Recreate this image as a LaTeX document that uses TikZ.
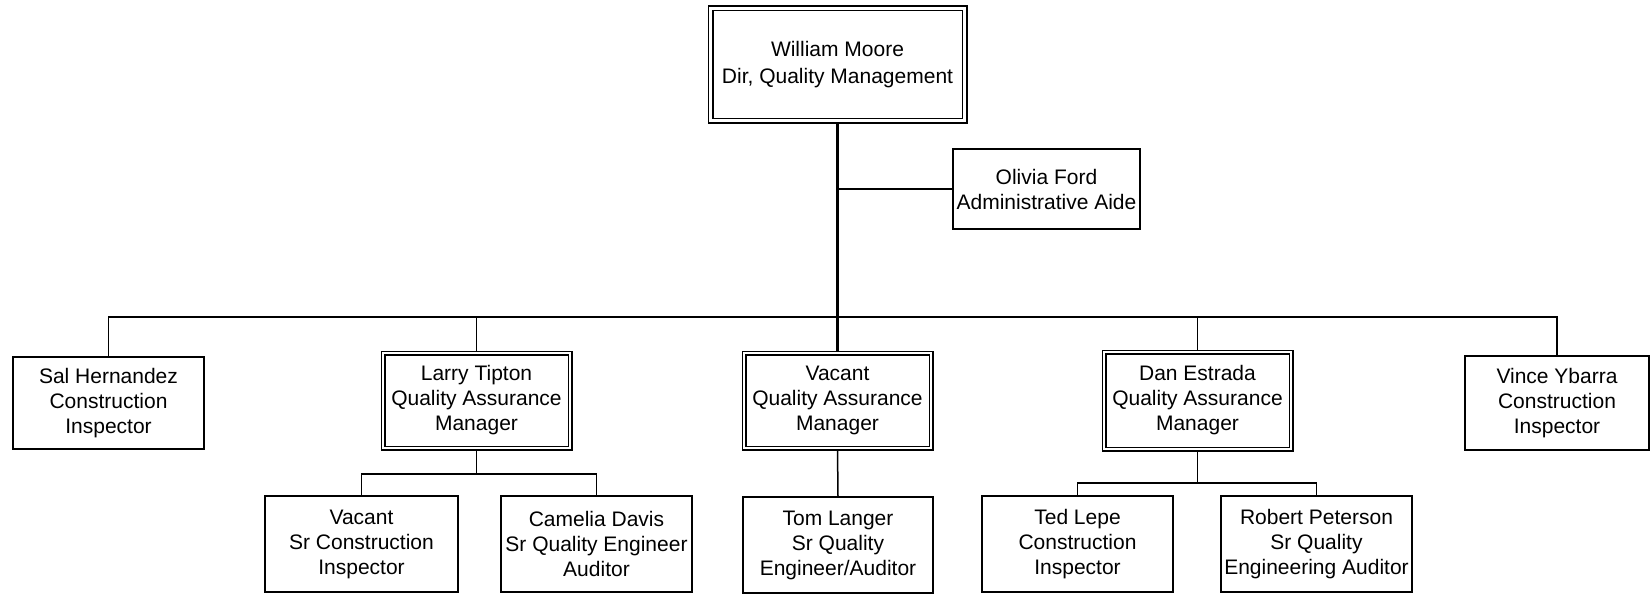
\documentclass[tikz,border=0pt]{standalone}
\usepackage{fontspec}
\setmainfont{Liberation Sans}
\usetikzlibrary{backgrounds}
\begin{document}
\begin{tikzpicture}[x=1pt,y=-1pt,
  box/.style={draw, line width=1.3pt, align=center, inner sep=0pt, fill=white,
    font=\fontsize{21}{25}\selectfont},
  dbox/.style={box, double, double distance=2.8pt, line width=1.1pt},
  conn/.style={line width=1.5pt},
  trunk/.style={line width=2.2pt}]
\useasboundingbox (0,0) rectangle (1650,594);
% top
\node[dbox, double distance=3.8pt, minimum width=254pt, minimum height=112pt,
  font=\fontsize{21}{27}\selectfont] (wm) at (837.5,64.5) {William Moore\\Dir, Quality Management};
\node[box, minimum width=187pt, minimum height=80pt] (of) at (1046.5,189) {Olivia Ford\\Administrative Aide};
% second row
\node[box, minimum width=191pt, minimum height=92pt] (sal) at (108.5,403) {Sal Hernandez\\Construction\\Inspector};
\node[dbox, minimum width=187pt, minimum height=95pt] (lt) at (476.5,400.5) {Larry Tipton\\Quality Assurance\\Manager};
\node[dbox, minimum width=187pt, minimum height=95pt] (vq) at (837.5,400.5) {Vacant\\Quality Assurance\\Manager};
\node[dbox, minimum width=187pt, minimum height=97pt] (de) at (1197.5,400.5) {Dan Estrada\\Quality Assurance\\Manager};
\node[box, minimum width=184pt, minimum height=94pt] (vy) at (1557,403) {Vince Ybarra\\Construction\\Inspector};
% bottom row
\node[box, minimum width=193pt, minimum height=96pt] (vs) at (361.5,544) {Vacant\\Sr Construction\\Inspector};
\node[box, minimum width=191pt, minimum height=96pt] (cd) at (596.5,544) {Camelia Davis\\Sr Quality Engineer\\Auditor};
\node[box, minimum width=190pt, minimum height=96pt] (tl) at (838,545) {Tom Langer\\Sr Quality\\Engineer/Auditor};
\node[box, minimum width=191pt, minimum height=96pt] (tp) at (1077.5,544) {Ted Lepe\\Construction\\Inspector};
\node[box, minimum width=191pt, minimum height=96pt] (rp) at (1316.5,544) {Robert Peterson\\Sr Quality\\Engineering Auditor};
\coordinate (bus) at (0,317);
\coordinate (lbus) at (0,474);
\coordinate (dbus) at (0,483);
\begin{scope}[on background layer]
\draw[trunk] (wm.south) -- (vq.north);
\draw[conn] (wm.south |- of.west) -- (of.west);
\draw[conn] (sal.north) |- (vy.north |- bus) -- (vy.north);
\draw[conn] (lt.north) -- (lt.north |- bus);
\draw[conn] (de.north) -- (de.north |- bus);
\draw[conn] (lt.south) -- (lt.south |- lbus);
\draw[conn] (vs.north) |- (cd.north |- lbus) -- (cd.north);
\draw[conn] (vq.south) -- (tl.north);
\draw[conn] (de.south) -- (de.south |- dbus);
\draw[conn] (tp.north) |- (rp.north |- dbus) -- (rp.north);
\end{scope}
\end{tikzpicture}
\end{document}
